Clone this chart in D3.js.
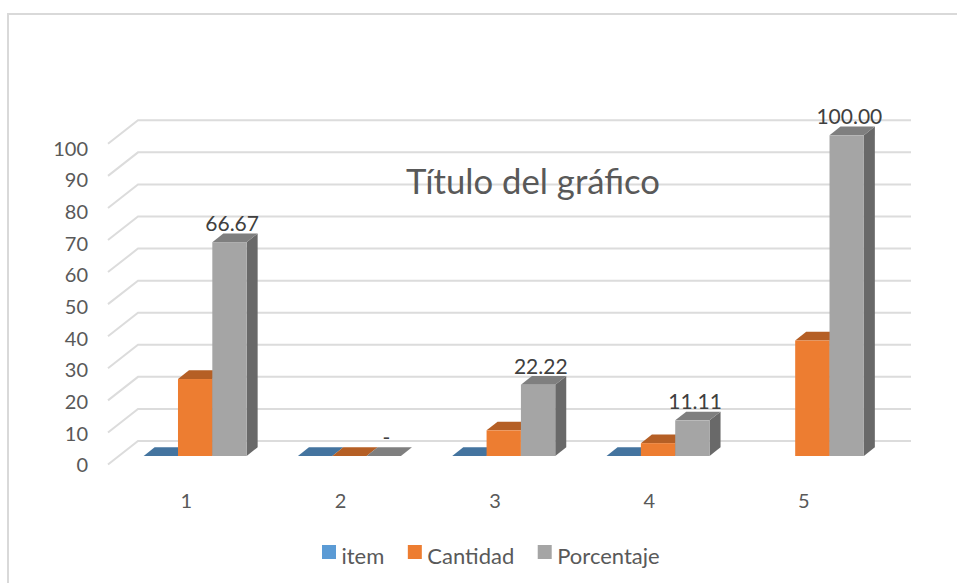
<!DOCTYPE html>
<html>
<head>
<meta charset="utf-8">
<script src="https://d3js.org/d3.v7.min.js"></script>
<style>
    body { margin: 0; background: #fff; }
    text { font-family: Lato, "Open Sans", sans-serif; fill: #595959; }
    .dlabel { fill: #404040; }
</style>
</head>
<body>
<div id="chart"></div>
<script>
// data
const categories = ["1", "2", "3", "4", "5"];
const seriesNames = ["item", "Cantidad", "Porcentaje"];
const itemValues = [0, 0, 0, 0, null];
const cantidadValues = [24, 0, 8, 4, 36];
const porcentajeValues = [66.67, 0, 22.22, 11.11, 100];
const porcentajeLabels = ["66.67", "-", "22.22", "11.11", "100.00"];
const yTicks = [0, 10, 20, 30, 40, 50, 60, 70, 80, 90, 100];

const seriesValues = [itemValues, cantidadValues, porcentajeValues];
const colors = [
    {front: "#5b9bd5", top: "#44749f", side: "#365d80"},
    {front: "#ed7d31", top: "#b55f25", side: "#8e4a1d"},
    {front: "#a5a5a5", top: "#7f7f7f", side: "#696969"}
];

const svg = d3.select("#chart").append("svg")
    .attr("width", 957)
    .attr("height", 583);

// chart frame, the screenshot cuts off its right and bottom side
svg.append("path")
    .attr("d", d3.line()([[8, 583], [8, 14], [957, 14]]))
    .attr("fill", "none")
    .attr("stroke", "#d9d9d9")
    .attr("stroke-width", 2);

// the plane the bars stand on, the wall is pushed back from it
const barDepth = {x: 11, y: 8.7};
const wallDepth = {x: 19, y: 15};   // wall behind the bar front plane
const floorFront = {x: 11, y: 8.5}; // front edge in front of the bar plane
const gridEnd = 911;

const x = d3.scaleBand().domain(categories).range([118, 889.5]);
const y = d3.scaleLinear().domain([0, 100]).range([456, 135.3]);
const inner = d3.scaleBand().domain(seriesNames).range([0, 103]);

// gridlines, wall part and side wall part
const grid = svg.append("g");
yTicks.forEach(t => {
    let back = y(t) - wallDepth.y;
    let front = y(t) + floorFront.y;
    grid.append("path")
        .attr("d", d3.line()([
            [108, front],
            [138, back],
            [gridEnd, back]
        ]))
        .attr("fill", "none")
        .attr("stroke", "#dcdcdc")
        .attr("stroke-width", 2);
});

// axes
const yAxis = d3.axisLeft(d3.scaleLinear().domain([0, 100]).range([y(0) + 9.5, y(100) + 13.5]))
    .tickValues(yTicks).tickSize(0).tickPadding(0);
svg.append("g")
    .attr("transform", "translate(88,0)")
    .call(yAxis)
    .call(g => g.select(".domain").remove())
    .call(g => g.selectAll("text").style("font-size", "20px").style("font-family", null));

const xAxis = d3.axisBottom(d3.scaleBand().domain(categories).range([109, 881]))
    .tickSize(0).tickPadding(0);
svg.append("g")
    .attr("transform", "translate(0,494)")
    .call(xAxis)
    .call(g => g.select(".domain").remove())
    .call(g => g.selectAll("text").style("font-size", "20px").style("font-family", null));

// title sits behind the bars
svg.append("text")
    .attr("x", 533)
    .attr("y", 194)
    .attr("text-anchor", "middle")
    .style("font-size", "34.7px")
    .text("Título del gráfico");

// bars, back to front is left to right for this view
const bars = svg.append("g");
categories.forEach((cat, i) => {
    seriesNames.forEach((name, s) => {
        let v = seriesValues[s][i];
        if (v === null) return;

        let x0 = x(cat) + (x.bandwidth() - inner.range()[1]) / 2 + inner(name);
        let x1 = x0 + inner.bandwidth();
        let y0 = y(0);
        let y1 = y(v);
        let dx = barDepth.x;
        let dy = barDepth.y;
        let g = bars.append("g");

        g.append("path")
            .attr("d", d3.line()([[x1, y0], [x1 + dx, y0 - dy], [x1 + dx, y1 - dy], [x1, y1]]))
            .attr("fill", colors[s].side);
        g.append("path")
            .attr("d", d3.line()([[x0, y1], [x0 + dx, y1 - dy], [x1 + dx, y1 - dy], [x1, y1]]))
            .attr("fill", colors[s].top);
        g.append("rect")
            .attr("x", x0).attr("y", y1)
            .attr("width", x1 - x0).attr("height", y0 - y1)
            .attr("fill", colors[s].front);
    });
});

// data labels of Porcentaje
svg.append("g").selectAll("text")
    .data(porcentajeValues)
    .enter()
    .append("text")
    .attr("class", "dlabel")
    .attr("x", (d, i) => x(categories[i]) + x.bandwidth() / 2 + 37)
    .attr("y", d => y(d) - 11)
    .attr("text-anchor", "middle")
    .style("font-size", "21px")
    .text((d, i) => porcentajeLabels[i]);

// legend
let legendX = 322;
const legend = svg.append("g");
seriesNames.forEach((name, s) => {
    legend.append("rect")
        .attr("x", legendX).attr("y", 545)
        .attr("width", 14).attr("height", 14)
        .attr("fill", colors[s].front);
    let label = legend.append("text")
        .attr("x", legendX + 19.5)
        .attr("y", 564)
        .style("font-size", "22px")
        .text(name);
    legendX += 19.5 + label.node().getComputedTextLength() + 23.5;
});
</script>
</body>
</html>
